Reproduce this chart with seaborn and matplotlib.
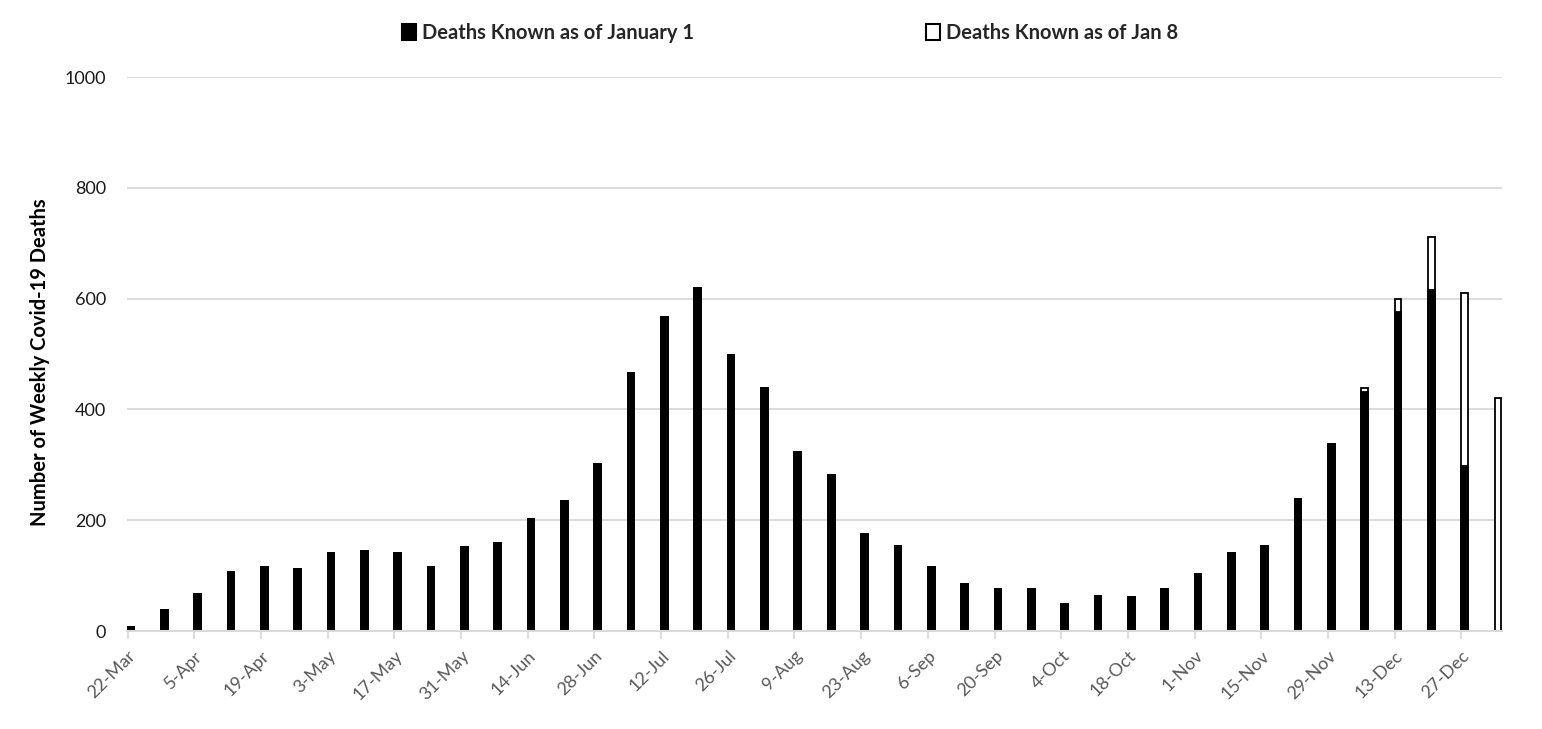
import matplotlib
matplotlib.use("Agg")
import matplotlib.pyplot as plt
import seaborn as sns
import pandas as pd
from matplotlib.patches import Patch

# weekly data, week starting dates
weeks = ["22-Mar", "29-Mar", "5-Apr", "12-Apr", "19-Apr", "26-Apr", "3-May", "10-May",
         "17-May", "24-May", "31-May", "7-Jun", "14-Jun", "21-Jun", "28-Jun", "5-Jul",
         "12-Jul", "19-Jul", "26-Jul", "2-Aug", "9-Aug", "16-Aug", "23-Aug", "30-Aug",
         "6-Sep", "13-Sep", "20-Sep", "27-Sep", "4-Oct", "11-Oct", "18-Oct", "25-Oct",
         "1-Nov", "8-Nov", "15-Nov", "22-Nov", "29-Nov", "6-Dec", "13-Dec", "20-Dec",
         "27-Dec", "3-Jan"]

deaths_jan1 = [7, 38, 67, 107, 116, 112, 140, 145, 140, 116, 152, 158, 203, 235, 302, 466,
               567, 619, 498, 439, 323, 282, 175, 154, 116, 84, 75, 76, 48, 64, 62, 75,
               103, 141, 154, 238, 338, 432, 575, 616, 297, 0]

deaths_jan8 = [7, 38, 67, 107, 116, 112, 140, 145, 140, 116, 152, 158, 203, 235, 302, 466,
               567, 619, 498, 439, 323, 282, 175, 154, 116, 84, 75, 76, 48, 64, 62, 75,
               103, 141, 154, 238, 338, 439, 599, 711, 610, 421]

df = pd.DataFrame({"week": weeks, "jan1": deaths_jan1, "jan8": deaths_jan8})

sns.set_theme(style="whitegrid")
plt.rcParams["font.family"] = ["Lato", "DejaVu Sans"]

fig = plt.figure(figsize=(15.42, 7.29), dpi=100)
ax = fig.add_axes([127 / 1542, 1 - 631 / 729, 1375 / 1542, 554 / 729])

# later counts behind (white), earlier counts on top (black)
sns.barplot(data=df, x="week", y="jan8", color="white", edgecolor="black", linewidth=1.3,
            width=0.2, saturation=1, errorbar=None, ax=ax)
sns.barplot(data=df, x="week", y="jan1", color="black", edgecolor="black", linewidth=1.3,
            width=0.2, saturation=1, errorbar=None, ax=ax)

ax.set_xlim(-0.12, len(weeks) - 1 + 0.12)
ax.set_ylim(0, 1000)
ax.set_yticks(range(0, 1001, 200))
ax.set_xticks([i - 0.1 for i in range(0, len(weeks), 2)])
ax.set_xticklabels(weeks[::2], rotation=45, ha="right", rotation_mode="anchor")

ax.grid(axis="y", color="#d9d9d9", linewidth=1.3)
ax.grid(axis="x", visible=False)
for side in ["left", "top", "right"]:
    ax.spines[side].set_visible(False)
ax.spines["bottom"].set_color("#d9d9d9")
ax.spines["bottom"].set_linewidth(1.5)

ax.tick_params(axis="x", length=6, width=1.3, color="#d9d9d9", labelsize=13,
               labelcolor="#595959", pad=6, bottom=True)
ax.tick_params(axis="y", length=0, labelsize=13, labelcolor="#1a1a1a", pad=15)

ax.set_xlabel("")
ax.set_ylabel("Number of Weekly Covid-19 Deaths", fontsize=14.5, fontweight="bold", color="black")
ax.yaxis.set_label_coords(-0.056, 0.486)

handles = [Patch(facecolor="black", edgecolor="black", linewidth=1.5),
           Patch(facecolor="white", edgecolor="black", linewidth=1.5)]
fig.legend(handles, ["Deaths Known as of January 1", "Deaths Known as of Jan 8"],
           loc="center", bbox_to_anchor=(790 / 1542, 1 - 33 / 729), ncol=2, frameon=False,
           prop={"size": 14.5, "weight": "bold"}, handlelength=0.7, handleheight=0.8,
           handletextpad=0.3, columnspacing=11.5)

fig.savefig("out.png", dpi=100)
